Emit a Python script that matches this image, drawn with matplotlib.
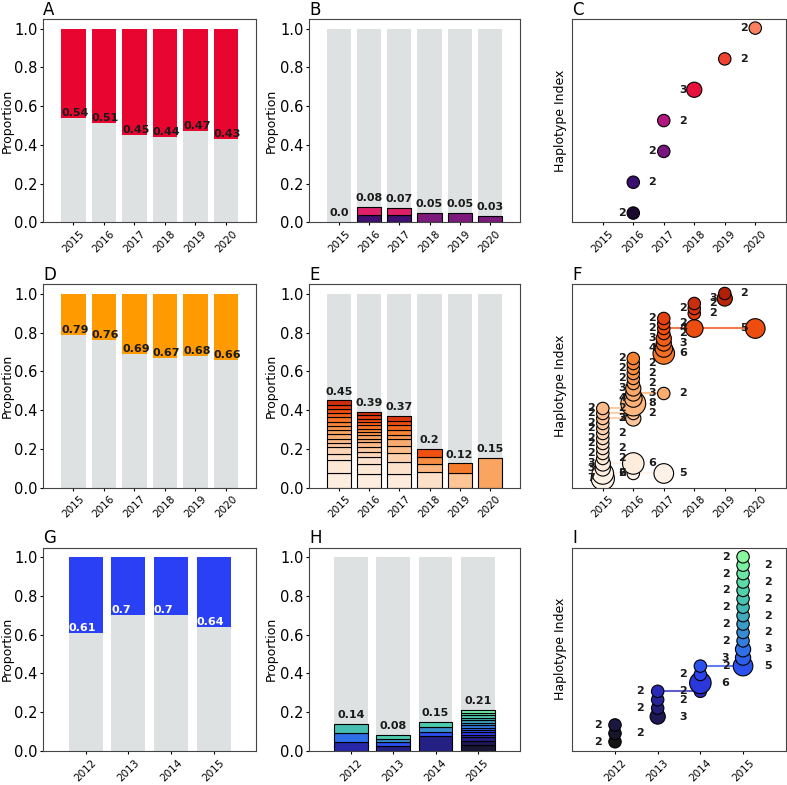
import numpy as np
import matplotlib
matplotlib.use("Agg")
import matplotlib.pyplot as plt
from matplotlib.colors import LinearSegmentedColormap

# ---------------- row 1 (A, B, C) ----------------
years_1 = [2015, 2016, 2017, 2018, 2019, 2020]
a_values = [0.54, 0.51, 0.45, 0.44, 0.47, 0.43]
b_samples = [45, 50, 55, 60, 40, 60]
c_year = [2016, 2016, 2017, 2017, 2018, 2019, 2020]
c_idx = [0, 1, 2, 3, 4, 5, 6]
c_count = [2, 2, 2, 2, 3, 2, 2]
c_side = "LRLRLRL"

# ---------------- row 2 (D, E, F) ----------------
years_2 = [2015, 2016, 2017, 2018, 2019, 2020]
d_values = [0.79, 0.76, 0.69, 0.67, 0.68, 0.66]
e_samples = [91, 115, 84, 50, 40, 33]
f_year = ([2015] * 15 + [2016] * 15 + [2017] * 10 + [2018] * 4 + [2019] * 2 + [2020])
f_idx = (list(range(15))
         + [1, 3, 12, 13, 14, 15, 16, 17, 18, 19, 20, 21, 22, 23, 24]
         + [1, 17, 25, 26, 27, 28, 29, 30, 31, 32]
         + [30, 33, 34, 35]
         + [36, 37]
         + [30])
f_count = ([7, 6, 3, 3, 2, 2, 2, 2, 2, 2, 2, 2, 2, 2, 2]
           + [2, 6, 3, 2, 2, 8, 4, 3, 3, 2, 2, 2, 2, 2, 2]
           + [5, 2, 6, 4, 3, 3, 2, 2, 2, 2]
           + [4, 2, 2, 2]
           + [3, 2]
           + [5])
f_side = ("LRLLRLRLLRLLRLL" + "LRLRLRLRLRLRLRL" + "RRRLRLRLRL" + "LRLR" + "LR" + "L")

# ---------------- row 3 (G, H, I) ----------------
years_3 = [2012, 2013, 2014, 2015]
g_values = [0.61, 0.70, 0.70, 0.64]
h_samples = [43, 110, 80, 157]
i_year = [2012] * 3 + [2013] * 4 + [2014] * 4 + [2015] * 14
i_idx = [0, 1, 2] + [3, 4, 5, 6] + [6, 7, 8, 9] + list(range(9, 23))
i_count = ([2, 2, 2] + [3, 2, 2, 2] + [2, 6, 2, 2]
           + [5, 3, 3, 2, 2, 2, 2, 2, 2, 2, 2, 2, 2, 2])
i_side = "LRL" + "RLRL" + "LRLR" + "RLRLRLRLRLRLRL"

GREY = '#dde1e1'
TXT = '#1a1a1a'

cmap_purple = LinearSegmentedColormap.from_list(
    'hap_purple', ['#1a0a30', '#3b0f70', '#7a1680', '#b0177f', '#e8103c', '#f04030', '#f88060'])
cmap_b = LinearSegmentedColormap.from_list(
    'bar_purple', [(0, '#1a0a30'), (0.33, '#3d1070'), (0.5, '#7b1a7b'), (0.67, '#e0206a'), (1, '#f88060')])
cmap_orange = LinearSegmentedColormap.from_list(
    'hap_orange', [(0, '#fef4ea'), (0.2, '#fde0c8'), (0.35, '#fdc090'), (0.5, '#f9a462'),
                   (0.65, '#f58030'), (0.8, '#f05010'), (0.9, '#e03a10'), (1.0, '#b02008')])
cmap_blue = LinearSegmentedColormap.from_list(
    'hap_blue', [(0, '#141414'), (0.14, '#1e1858'), (0.27, '#2a2ab8'), (0.35, '#2a40f0'),
                 (0.5, '#2f6ee8'), (0.7, '#3fb0b8'), (0.85, '#55d8a8'), (1.0, '#88f8a0')])


def style_axis(ax, years, letter):
    ax.set_xticks(np.arange(len(years)))
    ax.set_xticklabels([str(y) for y in years], rotation=45, fontsize=7.5)
    ax.set_xlim(-1, len(years))
    ax.tick_params(axis='y', labelsize=10.5, length=2.5, pad=1.5)
    ax.tick_params(axis='x', length=2.5, pad=2)
    for sp in ax.spines.values():
        sp.set_color('#444444')
        sp.set_linewidth(0.8)
    ax.set_title(letter, loc='left', fontsize=12, pad=3)


def split_panel(ax, years, values, color, label_color, letter):
    x = np.arange(len(years))
    ax.bar(x, values, width=0.8, color=GREY)
    ax.bar(x, [1 - v for v in values], bottom=values, width=0.8, color=color)
    for xi, v in zip(x, values):
        ax.text(xi - 0.4, v, str(round(v, 2)), ha='left', va='bottom',
                fontsize=8, fontweight='bold', color=label_color)
    ax.set_ylim(0, 1.05)
    ax.set_ylabel('Proportion', fontsize=9)
    ax.yaxis.set_label_coords(-0.135, 0.5)
    style_axis(ax, years, letter)


def stacked_panel(ax, years, h_year, h_count, samples, cmap, letter):
    x = np.arange(len(years))
    ax.bar(x, 1.0, width=0.8, color=GREY, zorder=1)
    for xi, yr, n in zip(x, years, samples):
        props = sorted([c / n for y, c in zip(h_year, h_count) if y == yr], reverse=True)
        cols = cmap(np.linspace(0, 1, len(props) + 2)[1:-1])
        bottom = 0.0
        for p, col in zip(props, cols):
            ax.bar(xi, p, bottom=bottom, width=0.8, color=col,
                   edgecolor='black', linewidth=0.8, zorder=2)
            bottom += p
        ax.text(xi, bottom + 0.02, str(round(bottom, 2)), ha='center', va='bottom',
                fontsize=8, fontweight='bold', color=TXT, zorder=3)
    ax.set_ylim(0, 1.05)
    ax.set_ylabel('Proportion', fontsize=9)
    ax.yaxis.set_label_coords(-0.15, 0.5)
    style_axis(ax, years, letter)


def haplotype_panel(ax, years, h_year, h_idx, h_count, h_side, cmap, letter):
    top = max(h_idx)
    xpos = np.array([years.index(y) for y in h_year])
    idx = np.array(h_idx)
    cnt = np.array(h_count)
    for hap in sorted(set(h_idx)):
        xs = xpos[idx == hap]
        if len(xs) > 1:
            ax.plot(np.sort(xs), [hap] * len(xs), color=cmap(hap / top),
                    lw=1.5, alpha=0.75, zorder=1)
    order = np.lexsort((xpos, idx))
    ax.scatter(xpos[order], idx[order], s=40 * cnt[order], c=cmap(idx[order] / top),
               edgecolors='black', linewidths=0.8, zorder=2)
    for xp, i, c, side in zip(xpos, idx, cnt, h_side):
        dx = -0.5 if side == 'L' else 0.5
        ax.text(xp + dx, i, str(c), ha='left', va='center', fontsize=8,
                fontweight='bold', color=TXT, zorder=3)
    ax.margins(y=0.05)
    ax.set_yticks([])
    ax.set_ylabel('Haplotype Index', fontsize=9)
    ax.yaxis.set_label_coords(-0.025, 0.5)
    style_axis(ax, years, letter)


fig = plt.figure(figsize=(7.87, 7.85), dpi=100)
lefts = [0.0546, 0.3926, 0.7272]
widths = [0.2712, 0.2681, 0.2712]
bottoms = [0.7168, 0.3787, 0.0433]
h = 0.2592
axs = [[fig.add_axes([l, b, w, h]) for l, w in zip(lefts, widths)] for b in bottoms]

split_panel(axs[0][0], years_1, a_values, '#e8052f', TXT, 'A')
stacked_panel(axs[0][1], years_1, c_year, c_count, b_samples, cmap_b, 'B')
haplotype_panel(axs[0][2], years_1, c_year, c_idx, c_count, c_side, cmap_purple, 'C')

split_panel(axs[1][0], years_2, d_values, '#ff9a00', TXT, 'D')
stacked_panel(axs[1][1], years_2, f_year, f_count, e_samples, cmap_orange, 'E')
haplotype_panel(axs[1][2], years_2, f_year, f_idx, f_count, f_side, cmap_orange, 'F')

split_panel(axs[2][0], years_3, g_values, '#2a40f5', 'white', 'G')
stacked_panel(axs[2][1], years_3, i_year, i_count, h_samples, cmap_blue, 'H')
haplotype_panel(axs[2][2], years_3, i_year, i_idx, i_count, i_side, cmap_blue, 'I')

fig.savefig('out.png', dpi=100)
